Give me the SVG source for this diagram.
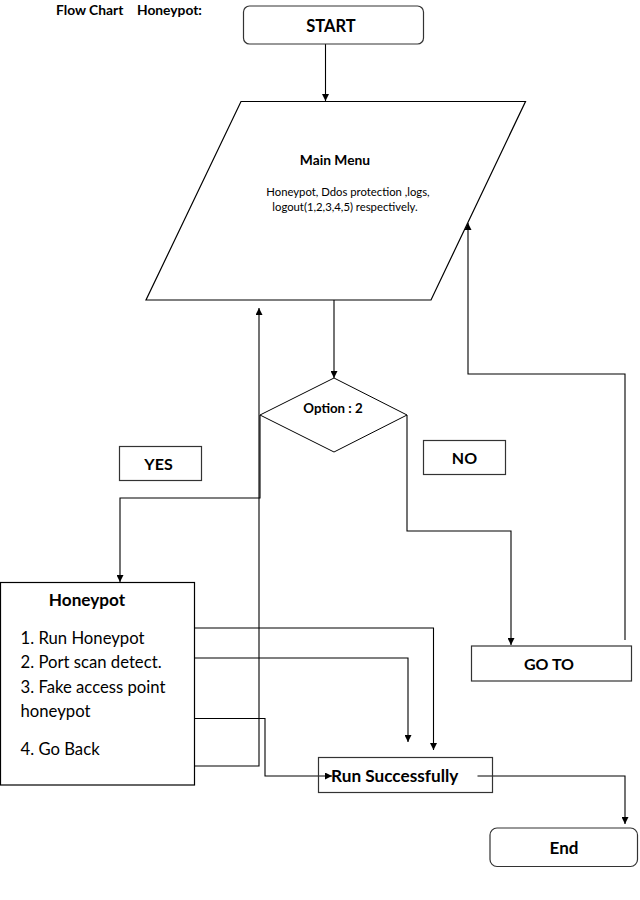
<svg xmlns="http://www.w3.org/2000/svg" width="640" height="900" viewBox="0 0 640 900">
<defs>
<marker id="arr" viewBox="0 0 10 10" refX="10" refY="5" markerWidth="7" markerHeight="7" markerUnits="userSpaceOnUse" orient="auto">
<path d="M0,0 L10,5 L0,10 z" fill="#000"/>
</marker>
<style>
.t{font-family:Lato,"Liberation Sans",sans-serif;fill:#000}
.b{font-weight:bold}
.box{fill:#fff;stroke:#333;stroke-width:1.2}
.ln{fill:none;stroke:#000;stroke-width:1.1}
.ar{marker-end:url(#arr)}
</style>
</defs>
<rect width="640" height="900" fill="#fff"/>
<g id="title">
<text class="t b" x="56" y="14.5" font-size="13.8">Flow Chart</text>
<text class="t b" x="137" y="14.5" font-size="13.8">Honeypot:</text>
</g>
<g id="connectors">
<path class="ln ar" d="M325.5,44 L325.5,101"/>
<path class="ln ar" d="M334,300 L334,378"/>
<path class="ln ar" d="M260,415 L260,498 L120,498 L120,582"/>
<path class="ln ar" d="M407,415 L407,531 L511,531 L511,645"/>
<path class="ln ar" d="M625,640 L625,374 L468,374 L468,223"/>
<path class="ln ar" d="M194,766 L259,766 L259,308"/>
<path class="ln ar" d="M194,628 L433.5,628 L433.5,750"/>
<path class="ln ar" d="M194,658 L408,658 L408,742"/>
<path class="ln ar" d="M194,718.5 L265,718.5 L265,776 L332,776"/>
<path class="ln ar" d="M477.5,776 L625,776 L625,824"/>
</g>
<g id="start">
<rect class="box" x="243.5" y="6" width="180" height="38" rx="6"/>
<text class="t b" x="331" y="31.5" font-size="16.5" text-anchor="middle">START</text>
</g>
<g id="main-menu">
<path d="M241,101.5 L525.5,101.5 L431,300 L146,300 z" fill="none" stroke="#000" stroke-width="1.2"/>
<text class="t b" x="335" y="165" font-size="13.8" text-anchor="middle">Main Menu</text>
<text class="t" x="348" y="196" font-size="11.3" text-anchor="middle">Honeypot, Ddos protection ,logs,</text>
<text class="t" x="345" y="211" font-size="11.3" text-anchor="middle">logout(1,2,3,4,5) respectively.</text>
</g>
<g id="option">
<path d="M334,378 L407,415 L334,452 L260,415 z" fill="none" stroke="#000" stroke-width="1"/>
<text class="t b" x="333" y="413" font-size="13.3" text-anchor="middle">Option : 2</text>
</g>
<g id="yes">
<rect class="box" x="119.5" y="446.5" width="82" height="34"/>
<text class="t b" x="158.5" y="470" font-size="16" text-anchor="middle">YES</text>
</g>
<g id="no">
<rect class="box" x="423.5" y="440.5" width="82" height="34"/>
<text class="t b" x="464.5" y="464" font-size="16" text-anchor="middle">NO</text>
</g>
<g id="honeypot">
<rect x="0.5" y="582.5" width="194" height="202.5" fill="none" stroke="#000" stroke-width="1.2"/>
<text class="t b" x="87" y="606" font-size="17.2" text-anchor="middle">Honeypot</text>
<text class="t" x="20.5" y="643.5" font-size="16.7">1. Run Honeypot</text>
<text class="t" x="20.5" y="668" font-size="16.7">2. Port scan detect.</text>
<text class="t" x="20.5" y="693" font-size="16.7">3. Fake access point</text>
<text class="t" x="20.5" y="717" font-size="16.7">honeypot</text>
<text class="t" x="20.5" y="754.5" font-size="16.7">4. Go Back</text>
</g>
<g id="goto">
<rect class="box" x="471.5" y="646" width="160" height="35"/>
<text class="t b" x="549" y="670" font-size="16" text-anchor="middle">GO TO</text>
</g>
<g id="run">
<rect class="box" x="318.5" y="757.5" width="174" height="35" style="fill:none"/>
<text class="t b" x="331" y="782" font-size="17.2">Run Successfully</text>
</g>
<g id="end">
<rect class="box" x="490" y="828" width="147.5" height="38.5" rx="7"/>
<text class="t b" x="564" y="853.5" font-size="17" text-anchor="middle">End</text>
</g>
</svg>
